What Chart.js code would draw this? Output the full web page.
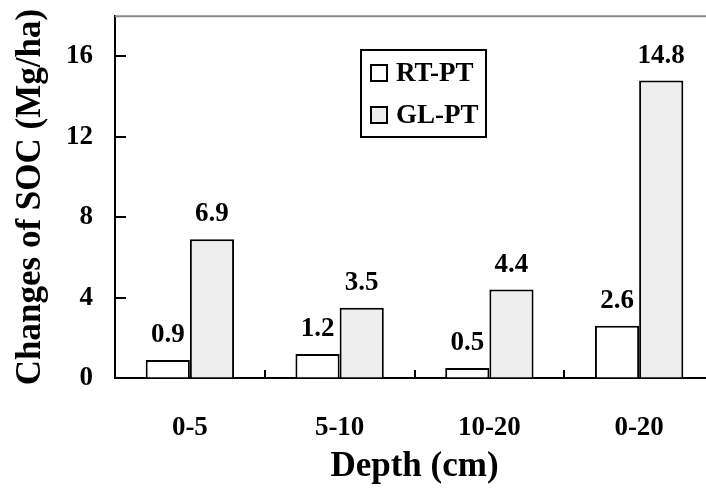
<!DOCTYPE html>
<html>
<head>
<meta charset="utf-8">
<script src="https://cdn.jsdelivr.net/npm/chart.js@4"></script>
<style>
  html, body { margin: 0; padding: 0; background: #fff; overflow: hidden; }
  #wrap { width: 714px; height: 488px; }
</style>
</head>
<body>
<div id="wrap"><canvas id="socChart"></canvas></div>
<script>
// data
const depths = ['0-5', '5-10', '10-20', '0-20'];
const rtPt = [0.9, 1.2, 0.5, 2.6];
const glPt = [6.9, 3.5, 4.4, 14.8];
const yTicks = [0, 4, 8, 12, 16];

const serif = 'Liberation Serif, Times New Roman, serif';

// tick marks drawn inward, the grey top frame line, value labels and the boxed legend
const decorPlugin = {
    id: 'decor',
    afterDraw(chart) {
        const c = chart.ctx;
        const area = chart.chartArea;
        const xs = chart.scales.x;
        const ys = chart.scales.y;
        c.save();

        // top frame
        c.strokeStyle = '#8a8a8a';
        c.lineWidth = 2;
        c.beginPath();
        c.moveTo(area.left, area.top);
        c.lineTo(area.right, area.top);
        c.stroke();

        // y ticks pointing into the plot
        c.strokeStyle = '#000';
        c.lineWidth = 2;
        yTicks.forEach(v => {
            if (v === 0) return;
            const py = Math.round(ys.getPixelForValue(v));
            c.beginPath();
            c.moveTo(area.left, py);
            c.lineTo(area.left + 11, py);
            c.stroke();
        });

        // x ticks between categories, pointing up
        for (let i = 0; i < depths.length - 1; i++) {
            const px = Math.round((xs.getPixelForTick(i) + xs.getPixelForTick(i + 1)) / 2);
            c.beginPath();
            c.moveTo(px, area.bottom);
            c.lineTo(px, area.bottom - 8);
            c.stroke();
        }

        // values above bars
        c.fillStyle = '#000';
        c.font = 'bold 27px ' + serif;
        c.textAlign = 'center';
        c.textBaseline = 'alphabetic';
        chart.data.datasets.forEach((ds, di) => {
            chart.getDatasetMeta(di).data.forEach((bar, i) => {
                c.fillText(ds.data[i].toFixed(1), bar.x, bar.y - 18);
            });
        });

        // legend box
        const lx = 361, ly = 50, lw = 125, lh = 87;
        c.lineWidth = 2;
        c.strokeStyle = '#000';
        c.strokeRect(lx, ly, lw, lh);
        c.textAlign = 'left';
        c.textBaseline = 'middle';
        chart.data.datasets.forEach((ds, di) => {
            const cy = ly + 23 + di * 42;
            c.fillStyle = ds.backgroundColor;
            c.fillRect(lx + 10, cy - 8, 16, 16);
            c.strokeRect(lx + 10, cy - 8, 16, 16);
            c.fillStyle = '#000';
            c.fillText(ds.label, lx + 35, cy + 1);
        });
        c.restore();
    }
};

new Chart(document.getElementById('socChart'), {
    type: 'bar',
    data: {
        labels: depths,
        datasets: [
            {
                label: 'RT-PT',
                data: rtPt,
                backgroundColor: '#ffffff',
                borderColor: '#000000',
                borderWidth: 2
            },
            {
                label: 'GL-PT',
                data: glPt,
                backgroundColor: '#eeeeee',
                borderColor: '#000000',
                borderWidth: 2
            }
        ]
    },
    options: {
        responsive: true,
        maintainAspectRatio: false,
        animation: false,
        layout: { padding: { top: 0, right: 0, bottom: 0, left: 0 } },
        datasets: {
            bar: { categoryPercentage: 0.59, barPercentage: 1.0 }
        },
        plugins: {
            legend: { display: false },
            tooltip: { enabled: false }
        },
        scales: {
            x: {
                grid: { display: false, drawTicks: false },
                border: { color: '#000', width: 2 },
                ticks: {
                    color: '#000',
                    padding: 34,
                    font: { family: serif, size: 27, weight: 'bold' }
                },
                title: {
                    display: true,
                    text: 'Depth (cm)',
                    color: '#000',
                    padding: { top: 0, bottom: 0 },
                    font: { family: serif, size: 35, weight: 'bold' }
                },
                afterFit(scale) { scale.height = 110; }
            },
            y: {
                min: 0,
                max: 18,
                // invisible tick length keeps labels off the axis without adding top padding
                grid: { drawOnChartArea: false, drawTicks: true, tickLength: 22, color: 'rgba(0,0,0,0)' },
                border: { color: '#000', width: 2 },
                afterBuildTicks(scale) {
                    scale.ticks = yTicks.map(v => ({ value: v }));
                },
                ticks: {
                    color: '#000',
                    padding: 0,
                    font: { family: serif, size: 27, weight: 'bold' }
                },
                title: {
                    display: true,
                    text: 'Changes of SOC (Mg/ha)',
                    color: '#000',
                    padding: { top: 10, bottom: 0 },
                    font: { family: serif, size: 35, weight: 'bold' }
                },
                afterFit(scale) { scale.width = 115; }
            }
        }
    },
    plugins: [decorPlugin]
});
</script>
</body>
</html>
